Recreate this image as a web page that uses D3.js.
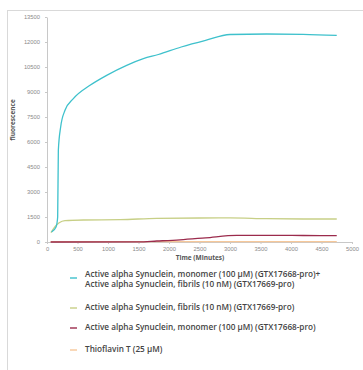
<!DOCTYPE html>
<html lang="en">
<head>
<meta charset="UTF-8">
<title>Alpha Synuclein ThT</title>
<script src="https://d3js.org/d3.v7.min.js"></script>
<style>
  html, body { margin: 0; background: #fff; }
  body { width: 363px; height: 370px; overflow: hidden; font-family: "Open Sans", "Liberation Sans", sans-serif; }
  .tick text { fill: #8a8a8a; font-size: 5.8px; }
  .axis path, .axis line { stroke: #c8c8c8; }
</style>
</head>
<body>
<div id="chart"></div>
<script>
// time points (minutes) and fluorescence readings for each series
const seededTime = [75, 150, 175, 186, 224, 295, 432, 705, 978, 1306, 1580, 1825, 2200, 2600, 3000, 3600, 4200, 4750];
const seededVals = [600, 920, 1500, 5500, 6900, 7900, 8600, 9400, 10000, 10600, 11000, 11250, 11700, 12100, 12450, 12480, 12460, 12400];

const fibrilTime = [65, 131, 200, 295, 600, 1200, 1800, 2500, 3000, 3600, 4200, 4750];
const fibrilVals = [560, 920, 1150, 1280, 1320, 1340, 1420, 1440, 1450, 1400, 1380, 1380];

const monomerTime = [60, 1500, 1800, 2180, 2600, 3110, 3600, 4200, 4750];
const monomerVals = [0, 10, 60, 130, 250, 400, 400, 390, 380];

const thtTime = [60, 1000, 2000, 3000, 4000, 4750];
const thtVals = [20, 20, 20, 20, 20, 20];

const xTicks = d3.range(0, 5001, 500);
const yTicks = d3.range(0, 13501, 1500);

const legendLabels = [
  ["Active alpha Synuclein, monomer (100 \u00b5M) (GTX17668-pro)+", "Active alpha Synuclein, fibrils (10 nM) (GTX17669-pro)"],
  ["Active alpha Synuclein, fibrils (10 nM) (GTX17669-pro)"],
  ["Active alpha Synuclein, monomer (100 \u00b5M) (GTX17668-pro)"],
  ["Thioflavin T (25 \u00b5M)"]
];
const colors = ["#3ec1cc", "#c7cf86", "#9b2b4c", "#f6c89a"];

const series = [
  d3.zip(seededTime, seededVals),
  d3.zip(fibrilTime, fibrilVals),
  d3.zip(monomerTime, monomerVals),
  d3.zip(thtTime, thtVals)
];

const width = 363, height = 370;
const svg = d3.select("#chart").append("svg")
  .attr("width", width)
  .attr("height", height);

// outer frame
svg.append("rect")
  .attr("x", 7.5).attr("y", 10.5)
  .attr("width", 400).attr("height", 400)
  .attr("fill", "none")
  .attr("stroke", "#d9d9d9");

const x = d3.scaleLinear().domain([0, 5000]).range([47, 352]);
const y = d3.scaleLinear().domain([0, 13500]).range([242, 17]);

svg.append("g")
  .attr("class", "axis")
  .attr("transform", "translate(0,242)")
  .call(d3.axisBottom(x).tickValues(xTicks).tickFormat(d3.format("d"))
    .tickSize(2).tickPadding(3).tickSizeOuter(0));

svg.append("g")
  .attr("class", "axis")
  .attr("transform", "translate(47,0)")
  .call(d3.axisLeft(y).tickValues(yTicks).tickFormat(d3.format("d"))
    .tickSize(2).tickPadding(5).tickSizeOuter(0));

svg.append("text")
  .attr("x", 200).attr("y", 260)
  .attr("text-anchor", "middle")
  .attr("font-size", 6.5)
  .attr("font-weight", "bold")
  .attr("fill", "#555")
  .text("Time (Minutes)");

svg.append("text")
  .attr("transform", "translate(15,120) rotate(-90)")
  .attr("text-anchor", "middle")
  .attr("font-size", 6.5)
  .attr("font-weight", "bold")
  .attr("fill", "#555")
  .text("fluorescence");

const line = d3.line()
  .x(d => x(d[0]))
  .y(d => y(d[1]))
  .curve(d3.curveMonotoneX);

// draw flat ones first so the cyan sits on top
[3, 2, 1, 0].forEach(i => {
  svg.append("path")
    .datum(series[i])
    .attr("d", line)
    .attr("fill", "none")
    .attr("stroke", colors[i])
    .attr("stroke-width", 1.3);
});

// legend
const rowY = [277, 310, 330, 352];
legendLabels.forEach((lines, i) => {
  const g = svg.append("g").attr("transform", `translate(0,${rowY[i]})`);
  g.append("line")
    .attr("x1", 70).attr("x2", 77)
    .attr("y1", i === 0 ? 1 : -2).attr("y2", i === 0 ? 1 : -2)
    .attr("stroke", colors[i])
    .attr("stroke-width", 1.4);
  lines.forEach((t, j) => {
    g.append("text")
      .attr("x", 85).attr("y", j * 10)
      .attr("font-size", 8.2)
      .attr("font-weight", 600)
      .attr("fill", "#444")
      .text(t);
  });
});
</script>
</body>
</html>
